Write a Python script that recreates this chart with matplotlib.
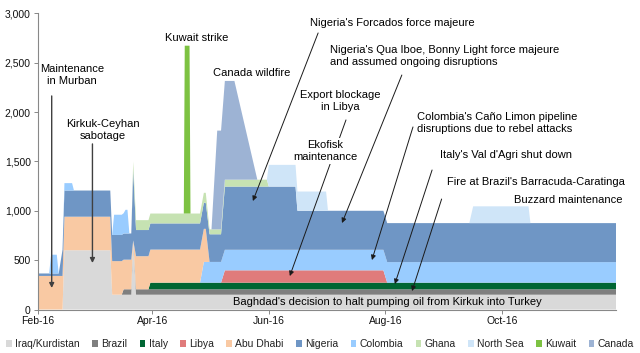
import pandas as pd
import matplotlib.pyplot as plt
import matplotlib.dates as mdates
from matplotlib.patches import Patch
from matplotlib.ticker import StrMethodFormatter

plt.rcParams['font.family'] = ['Liberation Sans', 'DejaVu Sans']

# breakpoints of the outage series (kb/d)
dates = pd.to_datetime([
    '2016-02-01', '2016-02-07', '2016-02-08', '2016-02-11', '2016-02-12',
    '2016-02-14', '2016-02-15', '2016-02-19', '2016-02-20', '2016-03-10',
    '2016-03-11', '2016-03-12', '2016-03-16', '2016-03-17', '2016-03-18',
    '2016-03-19', '2016-03-20', '2016-03-21', '2016-03-22', '2016-03-23 12:00',
    '2016-03-30', '2016-03-31', '2016-04-17 12:00', '2016-04-18', '2016-04-20 12:00',
    '2016-04-21', '2016-04-26', '2016-04-28', '2016-04-29', '2016-05-01',
    '2016-05-02', '2016-05-05', '2016-05-07', '2016-05-09', '2016-05-14',
    '2016-05-26', '2016-05-31', '2016-06-01', '2016-06-15', '2016-06-16',
    '2016-07-01', '2016-07-02', '2016-07-31', '2016-08-02', '2016-09-14',
    '2016-09-16', '2016-10-15', '2016-10-16', '2016-11-30'], format='mixed')

iraq = [0, 0, 0, 0, 0, 0, 600, 600, 600, 600,
        150, 150, 150, 150, 150, 150, 150, 150, 700, 150] + [150] * 29
brazil = [0] * 13 + [55, 55, 55, 55, 55, 0, 55] + [55] * 29
italy = [0] * 21 + [67] * 28
libya = [0] * 33 + [125] * 10 + [0] * 6
colombia = [0] * 27 + [210] * 6 + [208] * 16
abu_dhabi = [340] * 13 + [300, 300, 300, 300, 300, 0, 335] + [335] * 9 + [0] * 20
nigeria = [25] * 5 + [265] * 13 + [713] + [265] * 10 + [280] * 4 + [640] * 6 + [395] * 10
colombia_early = [0, 0, 190, 190, 0, 0, 75, 75, 0, 0,
                  0, 205, 205, 205, 240, 240, 0] + [0] * 32
ghana = [0] * 18 + [85] + [100] * 10 + [50] * 4 + [70] * 4 + [0] * 12
north_sea = [0] * 37 + [220, 220, 195, 195, 0, 0, 0, 0, 170, 170, 0, 0]
kuwait = [0] * 23 + [1700, 1700] + [0] * 24
canada = [0] * 31 + [1000, 1000, 1000, 1000] + [0] * 14

labels = ['Iraq/Kurdistan', 'Brazil', 'Italy', 'Libya', 'Abu Dhabi', 'Nigeria',
          'Colombia', 'Ghana', 'North Sea', 'Kuwait', 'Canada']
colors = {'Iraq/Kurdistan': '#d9d9d9', 'Brazil': '#7f7f7f', 'Italy': '#006633',
          'Libya': '#e07b7b', 'Abu Dhabi': '#f9c9a3', 'Nigeria': '#6f96c5',
          'Colombia': '#99ccff', 'Ghana': '#c6e2b2', 'North Sea': '#cfe5f8',
          'Kuwait': '#7dc242', 'Canada': '#9db3d4'}

# stacking order as drawn in the chart
layers = [(iraq, 'Iraq/Kurdistan'), (brazil, 'Brazil'), (italy, 'Italy'),
          (libya, 'Libya'), (colombia, 'Colombia'), (abu_dhabi, 'Abu Dhabi'),
          (nigeria, 'Nigeria'), (colombia_early, 'Colombia'), (ghana, 'Ghana'),
          (north_sea, 'North Sea'), (kuwait, 'Kuwait'), (canada, 'Canada')]

fig = plt.figure(figsize=(6.4, 3.53), dpi=100)
ax = fig.add_axes([0.0589, 0.1232, 0.9042, 0.8391])

x = mdates.date2num(dates)
ax.stackplot(x, *[l[0] for l in layers], colors=[colors[l[1]] for l in layers],
             linewidth=0)

ax.set_xlim(mdates.date2num(pd.Timestamp('2016-02-01')),
            mdates.date2num(pd.Timestamp('2016-11-30')))
ax.set_ylim(0, 3000)
ax.set_yticks(range(0, 3001, 500))
ax.yaxis.set_major_formatter(StrMethodFormatter('{x:,.0f}'))
ax.xaxis.set_major_locator(mdates.MonthLocator(bymonth=[2, 4, 6, 8, 10]))
ax.xaxis.set_major_formatter(mdates.DateFormatter('%b-%y'))
ax.tick_params(axis='both', labelsize=7.5, labelcolor='#111111', color='#888888',
               length=3, width=0.7, pad=2)
for s in ['top', 'right']:
    ax.spines[s].set_visible(False)
for s in ['left', 'bottom']:
    ax.spines[s].set_color('#888888')
    ax.spines[s].set_linewidth(0.8)


def d(s):
    return mdates.date2num(pd.Timestamp(s))


def note(text, day, val, ha='center', **kw):
    ax.text(d(day), val, text, ha=ha, va='center', fontsize=8, color='#000000',
            linespacing=1.15, zorder=6, **kw)


def arrow(start, end, lw=0.7, color='#1a1a1a'):
    ax.annotate('', xy=(d(end[0]), end[1]), xytext=(d(start[0]), start[1]),
                arrowprops=dict(arrowstyle='-|>', color=color, lw=lw,
                                mutation_scale=7, shrinkA=0, shrinkB=0),
                zorder=5)


note('Maintenance\nin Murban', '2016-02-19', 2375)
arrow(('2016-02-08 08:00', 2163), ('2016-02-08 08:00', 218), lw=1.0, color='#404040')
note('Kirkuk-Ceyhan\nsabotage', '2016-03-06', 1818)
arrow(('2016-02-29 16:00', 1677), ('2016-02-29 16:00', 471), lw=1.0, color='#404040')
note('Kuwait strike', '2016-04-24', 2750)
note('Canada wildfire', '2016-05-23', 2396)
note("Nigeria's Forcados force majeure", '2016-08-04 12:00', 2902)
arrow(('2016-06-26 20:00', 2801), ('2016-05-23 16:00', 1099))
note("Nigeria's Qua Iboe, Bonny Light force majeure\nand assumed ongoing disruptions",
     '2016-07-03', 2568, ha='left')
arrow(('2016-08-09 16:00', 2375), ('2016-07-09 08:00', 876))
note('Export blockage\nin Libya', '2016-07-08 08:00', 2112)
arrow(('2016-07-11 10:00', 1920), ('2016-06-12', 339))
note('Ekofisk\nmaintenance', '2016-06-30 10:00', 1606,
     bbox=dict(facecolor='white', edgecolor='none', pad=1.5))
note("Colombia's Caño Limon pipeline\ndisruptions due to rebel attacks",
     '2016-08-17 14:00', 1889, ha='left')
arrow(('2016-08-15 12:00', 1849), ('2016-07-25', 501))
note("Italy's Val d'Agri shut down", '2016-10-03 05:00', 1565)
arrow(('2016-08-25 12:00', 1413), ('2016-08-06', 258))
note("Fire at Brazil's Barracuda-Caratinga", '2016-10-18 22:00', 1292)
arrow(('2016-08-30 12:00', 1119), ('2016-08-15', 187))
note('Buzzard maintenance', '2016-11-04 14:00', 1109)
note("Baghdad's decision to halt pumping oil from Kirkuk into Turkey", '2016-08-02', 76)

handles = [Patch(facecolor=colors[l], edgecolor='none', label=l) for l in labels]
leg = fig.legend(handles=handles, loc='center', bbox_to_anchor=(0.5, 0.025), ncol=11,
                 frameon=False, fontsize=7.5, handlelength=0.55, handleheight=0.55,
                 handletextpad=0.3, columnspacing=1.2, borderaxespad=0, borderpad=0)
for t in leg.get_texts():
    t.set_color('#222222')

fig.savefig('out.png', dpi=100)
